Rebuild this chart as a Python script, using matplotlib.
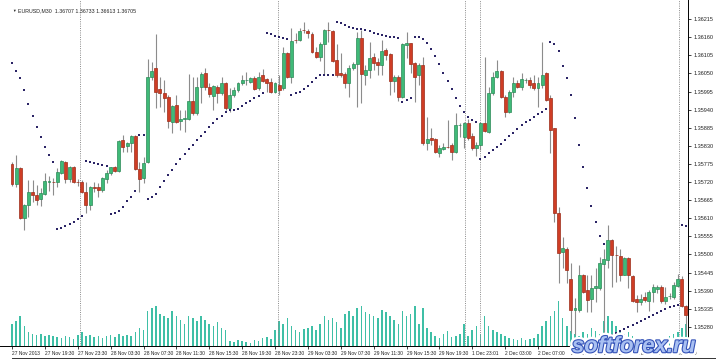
import matplotlib
matplotlib.use('Agg')
import matplotlib.pyplot as plt
import matplotlib.patheffects as pe
from matplotlib.lines import Line2D
import numpy as np

plt.rcParams['font.family'] = ['Liberation Sans', 'DejaVu Sans']

# EURUSD M30 candles
opens = [1.35774, 1.35713, 1.35762, 1.35610, 1.35650, 1.35690, 1.35680, 1.35668, 1.35683, 1.35721,
         1.35721, 1.35721, 1.35749, 1.35782, 1.35729, 1.35766, 1.35721, 1.35719, 1.35690, 1.35650,
         1.35706, 1.35704, 1.35696, 1.35729, 1.35749, 1.35765, 1.35754, 1.35848, 1.35830, 1.35838,
         1.35861, 1.35760, 1.35731, 1.35782, 1.36040, 1.36065, 1.36002, 1.35990, 1.35979, 1.35903,
         1.35954, 1.35906, 1.35913, 1.35913, 1.35966, 1.35929, 1.36008, 1.36050, 1.36008, 1.35981,
         1.36009, 1.35990, 1.36020, 1.35944, 1.35984, 1.35999, 1.36020, 1.36030, 1.36025, 1.36035,
         1.36005, 1.36045, 1.36032, 1.36025, 1.35994, 1.36015, 1.36005, 1.36111, 1.36040, 1.36151,
         1.36151, 1.36182, 1.36179, 1.36169, 1.36116, 1.36101, 1.36138, 1.36182, 1.36179, 1.36091,
         1.36050, 1.36047, 1.36020, 1.36067, 1.36078, 1.36158, 1.36045, 1.36060, 1.36101, 1.36086,
         1.36075, 1.36121, 1.36108, 1.36027, 1.36040, 1.35979, 1.36136, 1.36141, 1.36081, 1.36045,
         1.36075, 1.35838, 1.35853, 1.35850, 1.35809, 1.35819, 1.35827, 1.35832, 1.35812, 1.35893,
         1.35858, 1.35900, 1.35860, 1.35822, 1.35832, 1.35898, 1.35873, 1.35990, 1.36040, 1.36058,
         1.35979, 1.35934, 1.35994, 1.36022, 1.36009, 1.36030, 1.36030, 1.36020, 1.36005, 1.36015,
         1.36050, 1.35974, 1.35883, 1.35625, 1.35508, 1.35518, 1.35427, 1.35331, 1.35331, 1.35437,
         1.35392, 1.35366, 1.35397, 1.35397, 1.35470, 1.35483, 1.35544, 1.35498, 1.35496, 1.35439,
         1.35490, 1.35435, 1.35366, 1.35356, 1.35371, 1.35358, 1.35385, 1.35395, 1.35402, 1.35358,
         1.35373, 1.35371, 1.35405, 1.35424, 1.35344]
highs = [1.35781, 1.35802, 1.35765, 1.35652, 1.35726, 1.35726, 1.35711, 1.35701, 1.35749, 1.35739,
         1.35733, 1.35762, 1.35787, 1.35784, 1.35769, 1.35769, 1.35729, 1.35726, 1.35721, 1.35708,
         1.35719, 1.35716, 1.35736, 1.35756, 1.35766, 1.35769, 1.35848, 1.35863, 1.35841, 1.35863,
         1.35863, 1.35782, 1.35797, 1.36093, 1.36086, 1.36170, 1.36040, 1.36030, 1.35984, 1.35954,
         1.35984, 1.35939, 1.35939, 1.36047, 1.36040, 1.36040, 1.36055, 1.36065, 1.36020, 1.36015,
         1.36015, 1.36040, 1.36025, 1.36005, 1.36009, 1.36025, 1.36045, 1.36055, 1.36040, 1.36042,
         1.36055, 1.36062, 1.36035, 1.36035, 1.36025, 1.36045, 1.36131, 1.36116, 1.36187, 1.36172,
         1.36187, 1.36205, 1.36185, 1.36177, 1.36131, 1.36144, 1.36185, 1.36207, 1.36182, 1.36138,
         1.36111, 1.36055, 1.36075, 1.36086, 1.36177, 1.36182, 1.36075, 1.36146, 1.36111, 1.36096,
         1.36151, 1.36126, 1.36111, 1.36045, 1.36045, 1.36141, 1.36177, 1.36143, 1.36086, 1.36081,
         1.36101, 1.35918, 1.35883, 1.35853, 1.35832, 1.35838, 1.35908, 1.35838, 1.35929, 1.35898,
         1.35903, 1.35913, 1.35868, 1.35842, 1.35903, 1.36101, 1.36009, 1.36055, 1.36091, 1.36060,
         1.35984, 1.35999, 1.36040, 1.36030, 1.36050, 1.36035, 1.36038, 1.36045, 1.36040, 1.36146,
         1.36055, 1.35984, 1.35884, 1.35645, 1.35554, 1.35523, 1.35473, 1.35367, 1.35468, 1.35442,
         1.35437, 1.35437, 1.35458, 1.35493, 1.35518, 1.35591, 1.35547, 1.35526, 1.35518, 1.35493,
         1.35493, 1.35437, 1.35377, 1.35379, 1.35386, 1.35392, 1.35409, 1.35407, 1.35407, 1.35401,
         1.35382, 1.35417, 1.35442, 1.35435, 1.35346]
lows = [1.35708, 1.35706, 1.35607, 1.35574, 1.35614, 1.35660, 1.35650, 1.35648, 1.35680, 1.35693,
        1.35680, 1.35706, 1.35743, 1.35718, 1.35719, 1.35716, 1.35709, 1.35686, 1.35625, 1.35635,
        1.35690, 1.35675, 1.35690, 1.35716, 1.35741, 1.35751, 1.35751, 1.35812, 1.35812, 1.35812,
        1.35756, 1.35690, 1.35716, 1.35778, 1.36030, 1.35944, 1.35949, 1.35934, 1.35883, 1.35868,
        1.35898, 1.35878, 1.35873, 1.35908, 1.35924, 1.35924, 1.35959, 1.35999, 1.35979, 1.35939,
        1.35959, 1.35984, 1.35939, 1.35934, 1.35979, 1.35994, 1.36015, 1.36015, 1.36020, 1.35999,
        1.35999, 1.36025, 1.35994, 1.35990, 1.35992, 1.35984, 1.35999, 1.36035, 1.36020, 1.36141,
        1.36148, 1.36172, 1.36158, 1.36111, 1.36096, 1.36088, 1.36045, 1.36146, 1.36085, 1.36040,
        1.36040, 1.36006, 1.35979, 1.36060, 1.35949, 1.35959, 1.36015, 1.36035, 1.36060, 1.36045,
        1.36045, 1.36091, 1.35984, 1.35994, 1.35966, 1.35974, 1.36096, 1.36050, 1.35964, 1.36015,
        1.35832, 1.35817, 1.35832, 1.35807, 1.35797, 1.35817, 1.35822, 1.35787, 1.35809, 1.35858,
        1.35822, 1.35848, 1.35817, 1.35799, 1.35817, 1.35873, 1.35870, 1.35984, 1.36035, 1.35974,
        1.35918, 1.35930, 1.35979, 1.36005, 1.35999, 1.36020, 1.36005, 1.35999, 1.35949, 1.36006,
        1.35966, 1.35807, 1.35599, 1.35412, 1.35458, 1.35412, 1.35261, 1.35255, 1.35326, 1.35382,
        1.35326, 1.35326, 1.35356, 1.35392, 1.35255, 1.35458, 1.35402, 1.35417, 1.35419, 1.35437,
        1.35397, 1.35356, 1.35326, 1.35346, 1.35356, 1.35328, 1.35356, 1.35382, 1.35354, 1.35351,
        1.35366, 1.35366, 1.35402, 1.35341, 1.35255]
closes = [1.35713, 1.35762, 1.35610, 1.35650, 1.35690, 1.35680, 1.35665, 1.35686, 1.35723, 1.35723,
          1.35720, 1.35751, 1.35784, 1.35729, 1.35766, 1.35719, 1.35720, 1.35690, 1.35650, 1.35706,
          1.35701, 1.35696, 1.35731, 1.35749, 1.35765, 1.35754, 1.35845, 1.35827, 1.35838, 1.35860,
          1.35759, 1.35728, 1.35777, 1.36040, 1.36058, 1.35994, 1.35990, 1.35974, 1.35906, 1.35951,
          1.35903, 1.35913, 1.35914, 1.35966, 1.35929, 1.36008, 1.36047, 1.36008, 1.35987, 1.36012,
          1.35990, 1.36020, 1.35946, 1.35984, 1.35999, 1.36020, 1.36030, 1.36031, 1.36035, 1.36002,
          1.36040, 1.36028, 1.36022, 1.35994, 1.36020, 1.35999, 1.36111, 1.36040, 1.36148, 1.36150,
          1.36179, 1.36181, 1.36172, 1.36116, 1.36101, 1.36138, 1.36182, 1.36181, 1.36088, 1.36045,
          1.36045, 1.36020, 1.36067, 1.36078, 1.36158, 1.36047, 1.36060, 1.36096, 1.36081, 1.36075,
          1.36118, 1.36106, 1.36027, 1.36040, 1.35979, 1.36138, 1.36143, 1.36078, 1.36040, 1.36075,
          1.35838, 1.35851, 1.35848, 1.35812, 1.35822, 1.35827, 1.35826, 1.35812, 1.35893, 1.35894,
          1.35898, 1.35853, 1.35822, 1.35834, 1.35898, 1.35876, 1.35990, 1.36040, 1.36058, 1.35979,
          1.35934, 1.35994, 1.36020, 1.36009, 1.36032, 1.36031, 1.36015, 1.36005, 1.36020, 1.36045,
          1.35969, 1.35878, 1.35625, 1.35503, 1.35520, 1.35452, 1.35331, 1.35337, 1.35437, 1.35386,
          1.35361, 1.35397, 1.35405, 1.35473, 1.35486, 1.35544, 1.35498, 1.35497, 1.35437, 1.35490,
          1.35439, 1.35358, 1.35356, 1.35366, 1.35361, 1.35385, 1.35400, 1.35400, 1.35358, 1.35371,
          1.35374, 1.35407, 1.35424, 1.35344, 1.35316]

# Parabolic SAR dots
sar = [1.36081, 1.36056, 1.36035, 1.36000, 1.35958, 1.35920, 1.35886, 1.35856, 1.35827, 1.35803,
       1.35780, 1.35576, 1.35581, 1.35587, 1.35593, 1.35599, 1.35607, 1.35617, 1.35785, 1.35782,
       1.35779, 1.35776, 1.35772, 1.35769, 1.35622, 1.35625, 1.35632, 1.35643, 1.35661, 1.35676,
       1.35692, 1.35862, 1.35863, 1.35670, 1.35676, 1.35685, 1.35706, 1.35724, 1.35741, 1.35758,
       1.35775, 1.35790, 1.35805, 1.35819, 1.35833, 1.35847, 1.35860, 1.35873, 1.35887, 1.35900,
       1.35911, 1.35921, 1.35932, 1.35939, 1.35940, 1.35942, 1.35951, 1.35959, 1.35967, 1.35974,
       1.35981, 1.35990, 1.36172, 1.36169, 1.36165, 1.36161, 1.36157, 1.36154, 1.35984, 1.35990,
       1.35993, 1.36003, 1.36013, 1.36025, 1.36035, 1.36045, 1.36045, 1.36045, 1.36045, 1.36206,
       1.36202, 1.36197, 1.36192, 1.36188, 1.36186, 1.36184, 1.36182, 1.36178, 1.36174, 1.36171,
       1.36168, 1.36165, 1.36161, 1.36160, 1.36157, 1.35964, 1.35968, 1.35974, 1.36161, 1.36160,
       1.36154, 1.36141, 1.36123, 1.36103, 1.36078, 1.36052, 1.36027, 1.36002, 1.35976, 1.35951,
       1.35933, 1.35917, 1.35908, 1.35902, 1.35789, 1.35797, 1.35807, 1.35816, 1.35825, 1.35835,
       1.35848, 1.35860, 1.35870, 1.35881, 1.35892, 1.35902, 1.35908, 1.35917, 1.35927, 1.35934,
       1.35942, 1.36146, 1.36139, 1.36118, 1.36074, 1.36035, 1.35985, 1.35915, 1.35834, 1.35765,
       1.35702, 1.35647, 1.35598, 1.35556, 1.35531, 1.35252, 1.35255, 1.35261, 1.35267, 1.35273,
       1.35279, 1.35285, 1.35291, 1.35297, 1.35304, 1.35310, 1.35316, 1.35322, 1.35328, 1.35334,
       1.35340, 1.35344, 1.35348, 1.35591, 1.35587]

# tick volume
volumes = [880, 1000, 1200, 800, 560, 480, 440, 480, 400, 440, 400, 360, 320, 400, 360, 280, 440, 560,
           400, 440, 360, 400, 320, 400, 440, 360, 480, 400, 440, 400, 560,
           720, 640, 1400, 1520, 1600, 1280, 1200, 1120, 1400, 1200, 1040, 880, 1200, 1120, 1000, 1200,
           1040, 880, 800, 960, 720, 640,
           200, 160, 240, 200, 160, 120, 240, 200, 320, 360, 280, 640, 1000,
           880, 1120, 800, 640, 560, 680, 720, 800, 640, 880, 1200, 1040, 1120, 960, 720,
           1280, 1400, 1200, 1520, 1600, 1360, 1280, 1200, 1120, 1440, 1360, 1200, 1040, 880, 1400,
           1200, 1280, 1600, 880, 1520, 720, 560, 400, 320, 480, 600, 360, 400, 480, 880, 400, 640, 800,
           480, 1200, 800, 640, 560, 480, 400, 320, 280, 240, 320, 240, 280, 320, 480, 800, 1000,
           1200, 1400, 1800, 1120, 800, 600, 480, 400, 560, 480, 720, 600, 480, 1000, 1200,
           1000, 800, 600, 480, 560, 400, 320, 360, 280, 240, 320, 360, 320, 280, 400, 480, 560, 720, 880]

price_ticks = [1.36215, 1.36160, 1.36105, 1.36050, 1.35995, 1.35940, 1.35885, 1.35830, 1.35775,
               1.35720, 1.35665, 1.35610, 1.35555, 1.35500, 1.35445, 1.35390, 1.35335, 1.35280]
time_labels = ['27 Nov 2013', '27 Nov 19:30', '27 Nov 23:30', '28 Nov 03:30', '28 Nov 07:30',
               '28 Nov 11:30', '28 Nov 15:30', '28 Nov 19:30', '28 Nov 23:30', '29 Nov 03:30',
               '29 Nov 07:30', '29 Nov 11:30', '29 Nov 15:30', '29 Nov 19:30', '1 Dec 23:01',
               '2 Dec 03:00', '2 Dec 07:00', '2 Dec 11:00', '2 Dec 15:00', '2 Dec 19:00', '2 Dec 23:00']
label_bars = [0, 8, 16, 24, 32, 40, 48, 56, 64, 72, 80, 88, 96, 104, 112, 120, 128, 136, 144, 152, 160]
day_separators = [16.6, 64.7, 110.2, 113.8, 162.3]

n = len(opens)
x = np.arange(n)
o = np.array(opens); h = np.array(highs); l = np.array(lows); c = np.array(closes)
up = c >= o

fig = plt.figure(figsize=(7.16, 3.63), dpi=100)
ax = fig.add_axes([0, 17 / 363, 688 / 716, 346 / 363])
vax = ax.twinx()
ax.set_zorder(vax.get_zorder() + 1)
ax.patch.set_visible(False)

# volumes behind the price
vax.bar(x, volumes, width=0.38, color='#3fbfa6', linewidth=0)
vax.set_ylim(0, 13840)
vax.set_yticks([])
for s in vax.spines.values():
    s.set_visible(False)

# separators
for sx in day_separators:
    ax.axvline(sx, color='#8a8a8a', lw=0.7, linestyle=(0, (1, 1.3)), zorder=1)

# wicks
ax.vlines(x, l, h, color='#8c8c8c', lw=0.8, zorder=2)
# bodies
ax.bar(x[up], (c - o)[up], bottom=o[up], width=0.72, color='#3fba78', edgecolor='#2b8a57', linewidth=0.5, zorder=3)
ax.bar(x[~up], (o - c)[~up], bottom=c[~up], width=0.72, color='#cf3d25', edgecolor='#9c2c19', linewidth=0.5, zorder=3)

# parabolic SAR
ax.scatter(x, sar, s=1.6, marker='s', color='#2b2466', linewidths=0, zorder=4)

ax.set_xlim(-2.92, 164.5)
ax.set_ylim(1.35222, 1.36273)

ax.yaxis.tick_right()
ax.set_yticks(price_ticks)
ax.set_yticklabels(['%.5f' % p for p in price_ticks])
ax.tick_params(axis='y', length=2.5, width=0.6, pad=1.2, labelsize=4.0, colors='#222222')
ax.set_xticks(label_bars)
ax.set_xticklabels(time_labels, ha='left')
ax.tick_params(axis='x', length=2, width=0.6, pad=1.5, labelsize=3.5, colors='#222222')

ax.spines['left'].set_visible(False)
ax.spines['top'].set_visible(False)
ax.spines['right'].set_linewidth(0.7)
ax.spines['bottom'].set_linewidth(0.7)

# window edge under the time scale
fig.add_artist(Line2D([12 / 716, 1], [1 - 358 / 363] * 2, color='#333333', lw=0.7))

fig.text(12 / 716, 1 - 11 / 363, '\u25bc', fontsize=2.6, va='center', color='#222222')
fig.text(18 / 716, 1 - 11 / 363, 'EURUSD,M30  1.36707 1.36733 1.36613 1.36705',
         fontsize=3.8, va='center', color='#222222')

# watermark
fig.text(0.885, 0.045, 'softforex.ru', fontsize=16, family='Liberation Sans', weight='bold',
         style='italic', color='#a9c0f2', ha='center', va='center',
         path_effects=[pe.Stroke(linewidth=5, foreground='white'),
                       pe.Stroke(linewidth=1.6, foreground='#3553b8'), pe.Normal()])

fig.savefig('out.png', dpi=100)
